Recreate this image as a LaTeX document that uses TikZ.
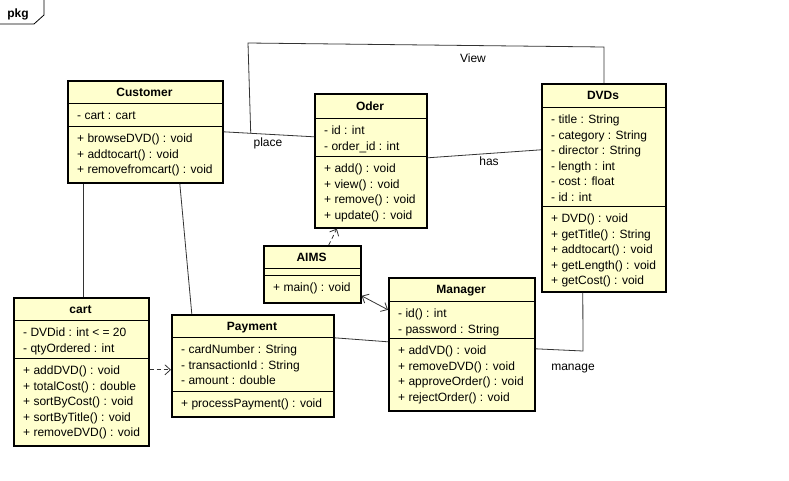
\documentclass[tikz,border=0pt]{standalone}
\usepackage{fontspec}
\setmainfont{Liberation Sans}
\usetikzlibrary{calc, arrows.meta}

\definecolor{classFill}{HTML}{FFFFCE}
\definecolor{lineColour}{HTML}{333333}

\tikzset{
    classbox/.style={draw=black, fill=classFill, line width=1.6pt, inner sep=0pt},
    member/.style={anchor=base west, inner sep=0pt},
    assoc/.style={draw=lineColour, line width=0.8pt},
    depend/.style={assoc, dash pattern=on 4pt off 3pt, -{Straight Barb[length=5.5pt,width=10pt]}},
    biarrow/.style={assoc, {Straight Barb[length=5.5pt,width=10pt]}-{Straight Barb[length=5.5pt,width=10pt]}},
    roleLabel/.style={inner sep=0pt, anchor=base},
    titleText/.style={inner sep=0pt, anchor=base, font=\fontsize{12}{15.5}\selectfont\bfseries}
}

% class box: name, left, top, right, bottom, first separator, second separator, title
\newcommand{\drawclass}[8]{%
    \node[classbox, anchor=north west, minimum width={#4-#2}, minimum height={#5-#3}] (#1) at (#2,#3) {};
    \draw[line width=0.8pt] (#2,#6) -- (#4,#6);
    \draw[line width=0.8pt] (#2,#7) -- (#4,#7);
    \node[titleText] (#1-title) at ({(#2+#4)/2},{(#3+#6)/2+4.5}) {#8};
}
% list of members: name, left, section top, lines
\newcommand{\members}[4]{%
    \foreach \m [count=\i] in {#4}
        \node[member] (#1-\i) at ({#2+10},{#3+16.5+15.5*(\i-1)}) {\m};
}

\begin{document}
\begin{tikzpicture}[x=1pt, y=-1pt, font=\fontsize{12}{15.5}\selectfont]
    \useasboundingbox[fill=white] (0,0) rectangle (789,480);

    % Package tab
    \draw[line width=0.8pt] (0,24) -- (34,24) -- (44,15) -- (44,0);
    \node[titleText] (pkg) at (18,17) {pkg};

    % Classes
    \drawclass{cust}{67}{80}{222}{182}{103}{126}{Customer}
    \members{cust-a}{67}{103}{- cart : cart}
    \members{cust-m}{67}{126}{+ browseDVD() : void, + addtocart() : void, + removefromcart() : void}

    \drawclass{oder}{314}{93}{426}{227}{118}{156}{Oder}
    \members{oder-a}{314}{118}{- id : int, - order\_id : int}
    \members{oder-m}{314}{156}{+ add() : void, + view() : void, + remove() : void, + update() : void}

    \drawclass{dvds}{541}{83}{665}{291}{107}{206}{DVDs}
    \members{dvds-a}{541}{107}{- title : String, - category : String, - director : String, - length : int, - cost : float, - id : int}
    \members{dvds-m}{541}{206}{+ DVD() : void, + getTitle() : String, + addtocart() : void, + getLength() : void, + getCost() : void}

    \drawclass{aims}{263}{245}{360}{302}{268}{275}{AIMS}
    \members{aims-m}{263}{275}{+ main() : void}

    \drawclass{cart}{13}{297}{148}{445}{320}{358}{cart}
    \members{cart-a}{13}{320}{- DVDid : int < = 20, - qtyOrdered : int}
    \members{cart-m}{13}{358}{+ addDVD() : void, + totalCost() : double, + sortByCost() : void, + sortByTitle() : void, + removeDVD() : void}

    \drawclass{pay}{171}{314}{333}{416}{337}{391}{Payment}
    \members{pay-a}{171}{337}{- cardNumber : String, - transactionId : String, - amount : double}
    \members{pay-m}{171}{391}{+ processPayment() : void}

    \drawclass{mgr}{388}{277}{534}{410}{301}{338}{Manager}
    \members{mgr-a}{388}{301}{- id() : int, - password : String}
    \members{mgr-m}{388}{338}{+ addVD() : void, + removeDVD() : void, + approveOrder() : void, + rejectOrder() : void}

    % Bend points
    \coordinate (viewA) at (248,43);
    \coordinate (viewB) at (604,47);
    \coordinate (mgrCorner) at (583,351);

    % Associations
    \draw[assoc] (cust.east) -- ([yshift=24pt]oder.west);
    \draw[assoc] ($(cust.east)!0.3!([yshift=24pt]oder.west)$) -- (viewA) -- (viewB) -- (viewB |- dvds.north);
    \draw[assoc] ([yshift=3pt]oder.east) -- ([yshift=38pt]dvds.west);
    \draw[assoc] ([xshift=-62pt]cust.south) -- ([xshift=-62pt]cust.south |- cart.north);
    \draw[assoc] ([xshift=34.5pt]cust.south) -- ([xshift=-61pt]pay.north);
    \draw[assoc] ([yshift=28pt]pay.east) -- ([yshift=2.5pt]mgr.west);
    \draw[assoc] ([yshift=-4.5pt]mgr.east) -- (mgrCorner) -- ([xshift=-21pt]dvds.south);

    % Dependencies
    \draw[depend] ([yshift=2pt]cart.east) -- ([yshift=2pt]cart.east -| pay.west);
    \draw[depend] ([xshift=16.5pt]aims.north) -- ([xshift=-34pt]oder.south);
    \draw[biarrow] ([yshift=-21.5pt]aims.east) -- ([yshift=34.5pt]mgr.west);

    % Labels
    \node[roleLabel] (placeLbl) at (268,146) {place};
    \node[roleLabel] (viewLbl) at (473,62) {View};
    \node[roleLabel] (hasLbl) at (489,165) {has};
    \node[roleLabel] (manageLbl) at (573,370) {manage};

\end{tikzpicture}
\end{document}
